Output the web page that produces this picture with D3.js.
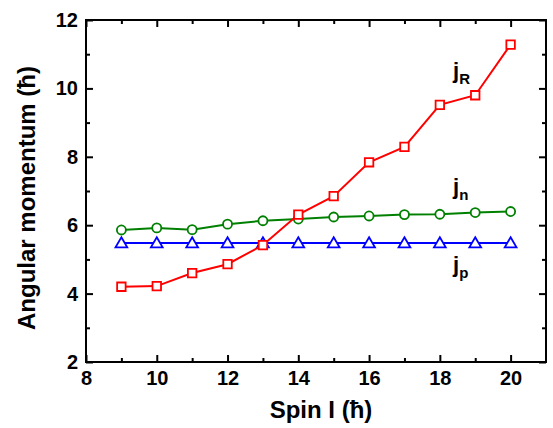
<!DOCTYPE html>
<html>
<head>
<meta charset="utf-8">
<script src="https://cdn.jsdelivr.net/npm/d3@7"></script>
<style>
  html, body { margin: 0; padding: 0; background: #fff; }
  svg { display: block; font-family: "Liberation Sans", Arial, sans-serif; }
</style>
</head>
<body>
<svg id="chart" width="553" height="428"></svg>
<script>
const spin = [9, 10, 11, 12, 13, 14, 15, 16, 17, 18, 19, 20];
const jR = [4.20, 4.22, 4.60, 4.86, 5.42, 6.31, 6.85, 7.84, 8.29, 9.52, 9.80, 11.28];
const jn = [5.86, 5.92, 5.87, 6.03, 6.13, 6.18, 6.24, 6.27, 6.31, 6.32, 6.37, 6.40];
const jp = [5.48, 5.48, 5.48, 5.48, 5.48, 5.48, 5.48, 5.48, 5.48, 5.48, 5.48, 5.48];
const xTicks = [8, 10, 12, 14, 16, 18, 20];
const yTicks = [2, 4, 6, 8, 10, 12];
const xMinor = [9, 11, 13, 15, 17, 19];
const yMinor = [3, 5, 7, 9, 11];

const svg = d3.select("#chart");
const L = 86, R = 546, T = 20, B = 362;
const x = d3.scaleLinear().domain([8, 21]).range([L, R]);
const y = d3.scaleLinear().domain([2, 12]).range([B, T]);

const axisStyle = g => {
  g.select(".domain").remove();
  g.selectAll("line").attr("stroke", "#000").attr("stroke-width", 2);
};

// bottom axis with labels (inward ticks)
svg.append("g").attr("transform", `translate(0,${B})`)
  .call(d3.axisBottom(x).tickValues(xTicks).tickSize(-7).tickPadding(9).tickFormat(d3.format("d")))
  .call(axisStyle)
  .call(g => g.selectAll("text").attr("font-size", 20).attr("font-weight", "bold").attr("fill", "#000"));
svg.append("g").attr("transform", `translate(0,${B})`)
  .call(d3.axisBottom(x).tickValues(xMinor).tickSize(-4).tickFormat(""))
  .call(axisStyle);
// top axis mirror
svg.append("g").attr("transform", `translate(0,${T})`)
  .call(d3.axisTop(x).tickValues(xTicks).tickSize(-7).tickFormat(""))
  .call(axisStyle);
svg.append("g").attr("transform", `translate(0,${T})`)
  .call(d3.axisTop(x).tickValues(xMinor).tickSize(-4).tickFormat(""))
  .call(axisStyle);
// left axis
svg.append("g").attr("transform", `translate(${L},0)`)
  .call(d3.axisLeft(y).tickValues(yTicks).tickSize(-7).tickPadding(8).tickFormat(d3.format("d")))
  .call(axisStyle)
  .call(g => g.selectAll("text").attr("font-size", 20).attr("font-weight", "bold").attr("fill", "#000"));
svg.append("g").attr("transform", `translate(${L},0)`)
  .call(d3.axisLeft(y).tickValues(yMinor).tickSize(-4).tickFormat(""))
  .call(axisStyle);
// right axis mirror
svg.append("g").attr("transform", `translate(${R},0)`)
  .call(d3.axisRight(y).tickValues(yTicks).tickSize(-7).tickFormat(""))
  .call(axisStyle);
svg.append("g").attr("transform", `translate(${R},0)`)
  .call(d3.axisRight(y).tickValues(yMinor).tickSize(-4).tickFormat(""))
  .call(axisStyle);

// frame
svg.append("rect").attr("x", L).attr("y", T).attr("width", R - L).attr("height", B - T)
  .attr("fill", "none").attr("stroke", "#000").attr("stroke-width", 2);

// axis titles
svg.append("text").attr("x", 321).attr("y", 418).attr("text-anchor", "middle")
  .attr("font-size", 24).attr("font-weight", "bold").text("Spin I (ħ)");
svg.append("text").attr("transform", `translate(35,198) rotate(-90)`)
  .attr("text-anchor", "middle").attr("font-size", 24).attr("font-weight", "bold")
  .text("Angular momentum (ħ)");

const series = [
  { name: "R", vals: jR, color: "#ff0000", marker: "square" },
  { name: "n", vals: jn, color: "#008000", marker: "circle" },
  { name: "p", vals: jp, color: "#0000ff", marker: "triangle" }
];
const line = d3.line().x(d => x(d[0])).y(d => y(d[1]));

const order = [series[2], series[1], series[0]];
order.forEach(s => {
  const pts = spin.map((v, i) => [v, s.vals[i]]);
  svg.append("path").datum(pts).attr("d", line)
    .attr("fill", "none").attr("stroke", s.color).attr("stroke-width", 2);
  const sym = s.marker === "square" ? d3.symbolSquare : s.marker === "circle" ? d3.symbolCircle : d3.symbolTriangle;
  const size = s.marker === "square" ? 72 : s.marker === "circle" ? 64 : 60;
  svg.append("g").selectAll("path").data(pts).join("path")
    .attr("d", d3.symbol().type(sym).size(size))
    .attr("transform", d => `translate(${x(d[0])},${y(d[1]) + (s.marker === "triangle" ? 1 : 0)})`)
    .attr("fill", "#fff").attr("stroke", s.color).attr("stroke-width", 1.8);
});

// series labels
const labels = [
  { main: "j", sub: "R", x: 453, y: 78 },
  { main: "j", sub: "n", x: 453, y: 194 },
  { main: "j", sub: "p", x: 453, y: 272 }
];
labels.forEach(l => {
  const t = svg.append("text").attr("x", l.x).attr("y", l.y)
    .attr("font-size", 22).attr("font-weight", "bold").attr("fill", "#000");
  t.append("tspan").text(l.main);
  t.append("tspan").attr("dy", 6).attr("font-size", 15).text(l.sub);
});
</script>
</body>
</html>
